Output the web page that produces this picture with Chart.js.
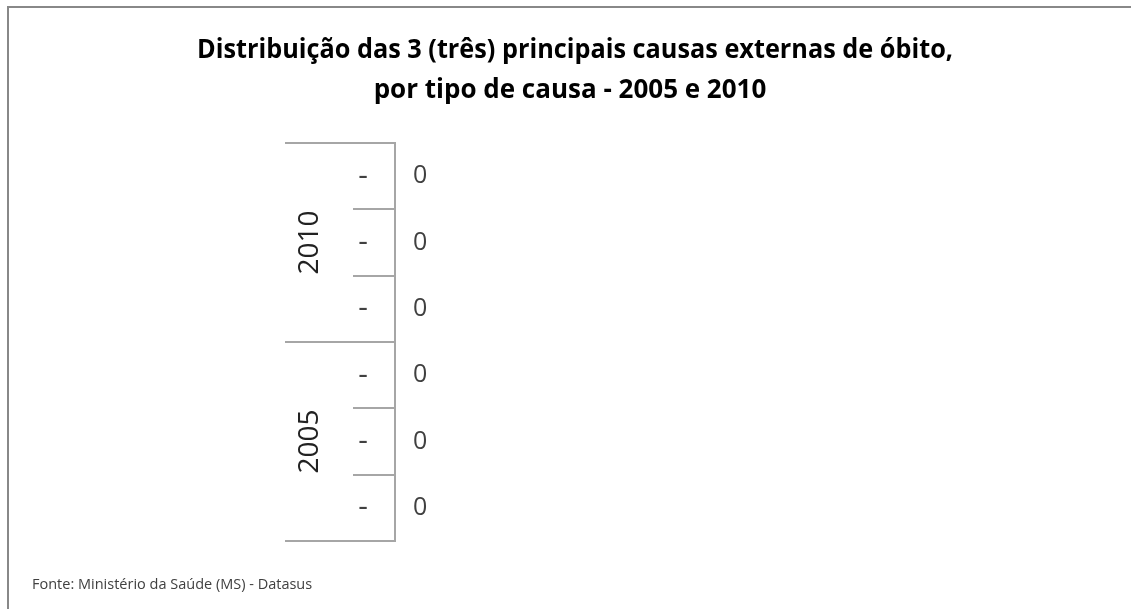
<!DOCTYPE html>
<html lang="pt">
<head>
    <meta charset="UTF-8">
    <title>Causas externas de óbito</title>
    <script src="https://cdn.jsdelivr.net/npm/chart.js"></script>
    <style>
        body { margin: 0; background: #fff; }
        .chart-container {
            position: absolute;
            left: 0; top: 0;
            width: 1131px; height: 609px;
        }
        .frame {
            position: absolute;
            left: 7px; top: 6px; right: 0; bottom: 0;
            border-top: 2px solid #888;
            border-left: 2px solid #888;
            pointer-events: none;
        }
    </style>
</head>
<body>
    <div class="chart-container">
        <canvas id="grafico"></canvas>
    </div>
    <div class="frame"></div>

    <script>
        // Dados (todos os valores são zero no gráfico original)
        const categorias = ['-', '-', '-', '-', '-', '-'];
        const anos = ['2010', '2010', '2010', '2005', '2005', '2005'];
        const valores = [0, 0, 0, 0, 0, 0];
        const titulo = ['Distribuição das 3 (três) principais causas externas de óbito,',
                        'por tipo de causa - 2005 e 2010'];
        const fonte = 'Fonte: Ministério da Saúde (MS) - Datasus';

        const corTexto = '#404040';
        const corLinha = '#a6a6a6';

        // Desenha título, rodapé, grupos de ano, divisórias e rótulos de valor
        const extras = {
            id: 'extras',
            afterDraw(chart) {
                const ctx = chart.ctx;
                const y = chart.scales.y;
                const x = chart.scales.x;
                const area = chart.chartArea;
                ctx.save();

                // título
                ctx.fillStyle = '#000';
                ctx.font = 'bold 26px "Open Sans"';
                ctx.textAlign = 'center';
                ctx.textBaseline = 'alphabetic';
                ctx.fillText(titulo[0], 575, 58, 756);
                ctx.fillText(titulo[1], 570, 98, 400);

                // rodapé
                ctx.fillStyle = corTexto;
                ctx.font = '14.5px "Open Sans"';
                ctx.textAlign = 'left';
                ctx.fillText(fonte, 32, 589, 286);

                // divisórias entre categorias
                ctx.strokeStyle = corLinha;
                ctx.lineWidth = 2;
                const limites = [];
                limites.push(area.top);
                for (let i = 0; i < categorias.length - 1; i++) {
                    limites.push((y.getPixelForValue(i) + y.getPixelForValue(i + 1)) / 2);
                }
                limites.push(area.bottom);
                limites.forEach((py, i) => {
                    const externa = i === 0 || i === limites.length - 1 || anos[i] !== anos[i - 1];
                    ctx.beginPath();
                    ctx.moveTo(externa ? 285 : 353, Math.round(py));
                    ctx.lineTo(area.left, Math.round(py));
                    ctx.stroke();
                });

                // rótulos de ano (rotacionados)
                ctx.fillStyle = '#222';
                ctx.font = '28px "Open Sans"';
                ctx.textAlign = 'center';
                ctx.textBaseline = 'middle';
                const grupos = [...new Set(anos)];
                grupos.forEach(ano => {
                    const idx = anos.map((a, i) => a === ano ? i : -1).filter(i => i >= 0);
                    const py = (y.getPixelForValue(idx[0]) + y.getPixelForValue(idx[idx.length - 1])) / 2;
                    ctx.save();
                    ctx.translate(310, py);
                    ctx.rotate(-Math.PI / 2);
                    ctx.fillText(ano, 0, 0);
                    ctx.restore();
                });

                // rótulos de valor
                ctx.fillStyle = corTexto;
                ctx.font = '25px "Open Sans"';
                ctx.textAlign = 'left';
                valores.forEach((v, i) => {
                    ctx.fillText(String(v), x.getPixelForValue(v) + 18, y.getPixelForValue(i));
                });
                ctx.restore();
            }
        };

        const ctx = document.getElementById('grafico').getContext('2d');
        new Chart(ctx, {
            type: 'bar',
            data: {
                labels: categorias,
                datasets: [{ data: valores, backgroundColor: '#4f81bd' }]
            },
            options: {
                indexAxis: 'y',
                responsive: true,
                maintainAspectRatio: false,
                animation: false,
                layout: { padding: { top: 143, bottom: 68, left: 0, right: 300 } },
                plugins: {
                    legend: { display: false },
                    tooltip: { enabled: false }
                },
                scales: {
                    x: { display: false, min: 0, max: 100 },
                    y: {
                        afterFit(scale) { scale.width = 395; },
                        grid: { display: false },
                        border: { display: true, color: corLinha, width: 2 },
                        ticks: {
                            padding: 19,
                            color: corTexto,
                            font: { family: 'Open Sans', size: 30 }
                        }
                    }
                }
            },
            plugins: [extras]
        });
    </script>
</body>
</html>
